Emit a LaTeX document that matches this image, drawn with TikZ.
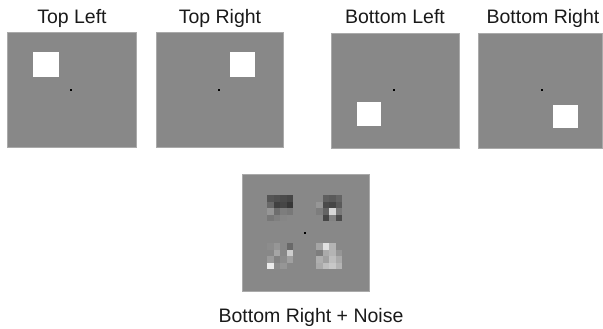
\documentclass[tikz,border=0pt]{standalone}
\usepackage{fontspec}
\setmainfont{Liberation Sans}
\definecolor{panelgray}{RGB}{136,136,136}
\definecolor{paneledge}{RGB}{170,170,170}
\tikzset{
  panel/.style={fill=panelgray, draw=paneledge, line width=0.4pt},
  target/.style={fill=white},
  fix/.style={fill=black},
  lbl/.style={font=\fontsize{19.5}{22}\selectfont, text=black!90, anchor=base, inner sep=0pt}
}
\newcommand\noiseblock[3]{%
  \foreach \v [count=\i from 0] in {#3} {
    \pgfmathsetmacro\cx{#1+6.5*mod(\i,4)}
    \pgfmathsetmacro\cy{#2+6.5*floor(\i/4)}
    \definecolor{cc}{RGB}{\v,\v,\v}
    \fill[cc] (\cx,\cy) rectangle ++(6.5,6.5);
  }}
\begin{document}
\begin{tikzpicture}[x=1pt,y=-1pt]
\useasboundingbox (0,0) rectangle (603,329);
% panels
\draw[panel] (7,32) rectangle (136,147);
\draw[panel] (156,32) rectangle (283,147);
\draw[panel] (331,33) rectangle (459,148);
\draw[panel] (478,33) rectangle (602.5,148);
\draw[panel] (242,174) rectangle (369,291);
% targets
\fill[target] (33,52) rectangle (59,77);
\fill[target] (230,52) rectangle (255,77);
\fill[target] (357,102) rectangle (381,126);
\fill[target] (553,105) rectangle (578,128);
% fixation dots
\fill[fix] (70,89) rectangle ++(2.4,2.4);
\fill[fix] (218,89) rectangle ++(2.4,2.4);
\fill[fix] (393,89) rectangle ++(2.4,2.4);
\fill[fix] (541,89) rectangle ++(2.4,2.4);
\fill[fix] (304,232) rectangle ++(2.4,2.4);
% noise blocks
\noiseblock{267}{195}{85,80,75,70, 105,65,70,55, 150,110,125,120, 120,128,134,136}
\noiseblock{316}{195}{136,95,90,100, 150,75,70,90, 125,100,215,120, 136,70,130,75}
\noiseblock{267}{243}{140,150,136,105, 136,165,136,205, 155,130,140,160, 235,140,150,136}
\noiseblock{316}{243}{165,225,180,136, 125,170,180,150, 175,160,190,170, 170,190,200,180}
% labels
\node[lbl] (tl) at (72,24) {Top Left};
\node[lbl] (tr) at (220,24) {Top Right};
\node[lbl] (bl) at (395,24) {Bottom Left};
\node[lbl] (br) at (543,24) {Bottom Right};
\node[lbl] (brn) at (311,322) {Bottom Right + Noise};
\end{tikzpicture}
\end{document}
